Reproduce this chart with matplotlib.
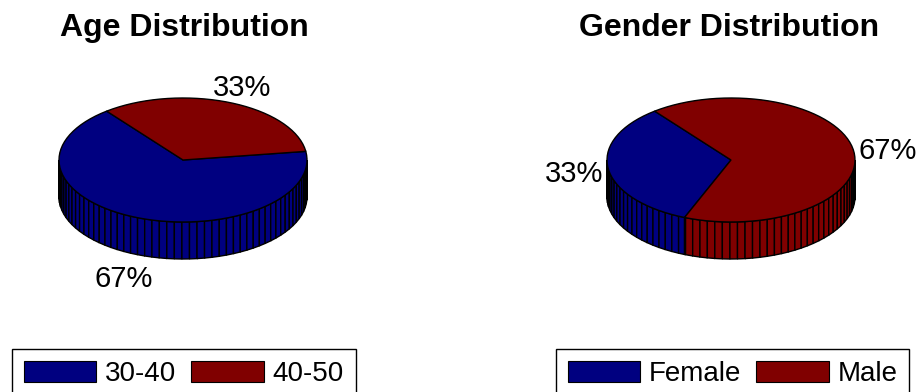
import numpy as np
import matplotlib.pyplot as plt
from matplotlib.patches import Polygon, Patch

plt.rcParams['font.family'] = ['Liberation Sans', 'DejaVu Sans']

# data
age_labels = ['30-40', '40-50']
age_counts = [2, 1]
gender_labels = ['Female', 'Male']
gender_counts = [1, 2]
colors = ['#000080', '#800000']

W, H = 921, 392
fig = plt.figure(figsize=(W / 100, H / 100), dpi=100)
ax = fig.add_axes([0, 0, 1, 1])
ax.set_xlim(0, W)
ax.set_ylim(H, 0)
ax.axis('off')

RX, RY, DEPTH = 124, 62, 37
START = 128.0
STEP = 3.5


def pt(cx, cy, a, drop=0.0):
    r = np.radians(a)
    return cx + RX * np.cos(r), cy - RY * np.sin(r) + drop


def arc_angles(a0, a1):
    n = max(2, int(np.ceil((a1 - a0) / STEP)) + 1)
    return np.linspace(a0, a1, n)


def pie3d(cx, cy, values, cols):
    vals = np.asarray(values, dtype=float)
    fracs = vals / vals.sum()
    edges = START + 360 * np.concatenate([[0], np.cumsum(fracs)])

    # side wall, front half only (180..360 deg)
    for i, c in enumerate(cols):
        a0, a1 = edges[i], edges[i + 1]
        for k in (-360, 0, 360):
            lo = max(a0 + k, 180)
            hi = min(a1 + k, 360)
            if hi <= lo:
                continue
            angs = np.unique(np.concatenate([[lo, hi],
                             np.arange(np.ceil(lo / STEP) * STEP, hi, STEP)]))
            for s, e in zip(angs[:-1], angs[1:]):
                poly = [pt(cx, cy, s), pt(cx, cy, e),
                        pt(cx, cy, e, DEPTH), pt(cx, cy, s, DEPTH)]
                ax.add_patch(Polygon(poly, closed=True, facecolor=c,
                                     edgecolor='black', lw=1.0))

    # top face
    for i, c in enumerate(cols):
        angs = arc_angles(edges[i], edges[i + 1])
        poly = [(cx, cy)] + [pt(cx, cy, a) for a in angs]
        ax.add_patch(Polygon(poly, closed=True, facecolor=c,
                             edgecolor='black', lw=1.0))

    # percentage labels
    for i in range(len(vals)):
        mid = (edges[i] + edges[i + 1]) / 2
        r = np.radians(mid)
        lx = cx + 1.28 * RX * np.cos(r)
        ly = cy - 1.28 * RY * np.sin(r) + 50 * max(0.0, -np.sin(r)) ** 2
        ax.text(lx, ly + 10, f'{fracs[i] * 100:.0f}%', ha='center',
                va='baseline', fontsize=21, color='black')


pie3d(183, 160, age_counts, colors)
pie3d(731, 160, gender_counts, colors)

ax.text(184, 36, 'Age Distribution', ha='center', va='baseline',
        fontsize=23, fontweight='bold')
ax.text(729, 36, 'Gender Distribution', ha='center', va='baseline',
        fontsize=23, fontweight='bold')


def legend_at(x, labels):
    handles = [Patch(facecolor=c, edgecolor='black', lw=0.8) for c in colors]
    leg = fig.legend(handles, labels, loc='upper left',
                     bbox_to_anchor=(x / W, 1 - 349 / H), ncol=2,
                     fontsize=20, frameon=True, fancybox=False,
                     edgecolor='black', framealpha=1, borderaxespad=0,
                     handlelength=2.6, handleheight=0.8, handletextpad=0.32,
                     columnspacing=0.54, borderpad=0.43)
    leg.get_frame().set_linewidth(1.0)


legend_at(12, age_labels)
legend_at(556, gender_labels)

fig.savefig('out.png', dpi=100)
